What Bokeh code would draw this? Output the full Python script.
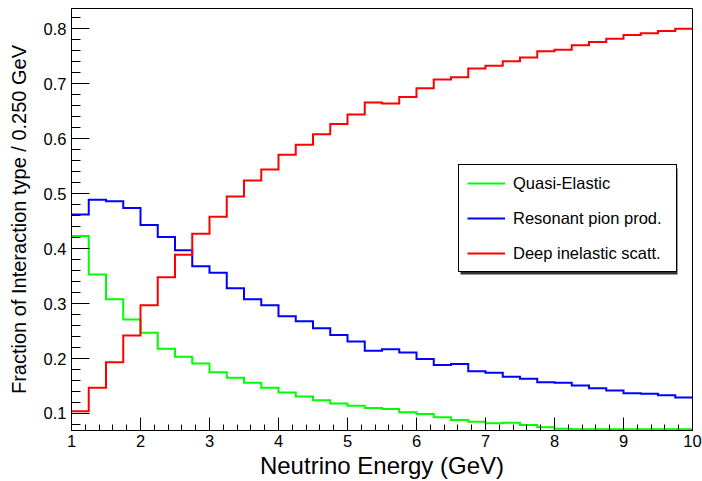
import numpy as np
from bokeh.plotting import figure
from bokeh.models import Range1d, FixedTicker, Legend, LegendItem, BoxAnnotation
from bokeh.embed import file_html
from bokeh.resources import INLINE

# ---- data (fraction of interaction type per 0.25 GeV bin, 1..10 GeV) ----
bin_low = 1.0
bin_high = 10.0
bin_width = 0.25

quasi_elastic = [0.423, 0.353, 0.308, 0.271, 0.247, 0.218, 0.203, 0.191, 0.175,
                 0.165, 0.156, 0.147, 0.138, 0.131, 0.124, 0.118, 0.114, 0.110,
                 0.108, 0.102, 0.099, 0.093, 0.088, 0.085, 0.082, 0.083, 0.079,
                 0.075, 0.072, 0.0715, 0.0715, 0.0715, 0.0715, 0.0715, 0.0715, 0.0715]

resonant_pion = [0.462, 0.489, 0.486, 0.474, 0.443, 0.421, 0.397, 0.368, 0.356,
                 0.328, 0.308, 0.297, 0.277, 0.268, 0.255, 0.243, 0.231, 0.214,
                 0.217, 0.211, 0.199, 0.188, 0.190, 0.177, 0.174, 0.167, 0.163,
                 0.157, 0.156, 0.151, 0.146, 0.142, 0.137, 0.136, 0.133, 0.129]

deep_inelastic = [0.104, 0.147, 0.193, 0.242, 0.297, 0.348, 0.389, 0.427, 0.458,
                  0.495, 0.524, 0.544, 0.571, 0.589, 0.608, 0.627, 0.644, 0.666,
                  0.664, 0.676, 0.692, 0.708, 0.712, 0.728, 0.733, 0.741, 0.748,
                  0.759, 0.762, 0.770, 0.776, 0.782, 0.789, 0.792, 0.796, 0.800]

series_labels = ["Quasi-Elastic", "Resonant pion prod.", "Deep inelastic scatt."]
series_colors = ["#00ff00", "#0000ff", "#ff0000"]

x_tick_values = [1, 2, 3, 4, 5, 6, 7, 8, 9, 10]
y_tick_values = [0.1, 0.2, 0.3, 0.4, 0.5, 0.6, 0.7, 0.8]

x_title = "Neutrino Energy (GeV)"
y_title = "Fraction of Interaction type / 0.250 GeV"

# ---- figure ----
FONT = "Liberation Sans"
edges = np.linspace(bin_low, bin_high, int(round((bin_high - bin_low) / bin_width)) + 1)

p = figure(width=702, height=481, output_backend="svg", toolbar_location=None,
           x_range=Range1d(1, 10), y_range=Range1d(0.069, 0.837),
           min_border_left=71, min_border_right=10, min_border_top=8,
           min_border_bottom=51, background_fill_color="white",
           border_fill_color="white")
p.grid.visible = False
p.outline_line_color = "black"
p.outline_line_width = 1

renderers = []
for vals, col in zip([quasi_elastic, resonant_pion, deep_inelastic], series_colors):
    yv = list(vals) + [vals[-1]]
    r = p.step(x=edges, y=yv, mode="after", line_color=col, line_width=2,
               line_join="miter")
    renderers.append(r)

# axes
x_minor = list(np.round(np.arange(1.0, 10.0001, 0.2), 3))
y_minor = list(np.round(np.arange(0.08, 0.8401, 0.02), 3))
p.xaxis.ticker = FixedTicker(ticks=x_tick_values, minor_ticks=x_minor)
p.yaxis.ticker = FixedTicker(ticks=y_tick_values, minor_ticks=y_minor)
p.yaxis.major_label_overrides = {v: f"{v:.1f}" for v in y_tick_values}

for ax in (p.xaxis[0], p.yaxis[0]):
    ax.axis_line_color = "black"
    ax.major_tick_line_color = "black"
    ax.minor_tick_line_color = "black"
    ax.major_tick_out = 0
    ax.minor_tick_out = 0
    ax.major_label_text_font = FONT
    ax.major_label_text_font_size = "16.5px"
    ax.major_label_text_color = "black"
    ax.axis_label_text_font = FONT
    ax.axis_label_text_font_style = "normal"
    ax.axis_label_text_color = "black"

p.xaxis.major_tick_in = 13
p.xaxis.minor_tick_in = 6
p.yaxis.major_tick_in = 18
p.yaxis.minor_tick_in = 9

p.xaxis.axis_label = x_title
p.xaxis.axis_label_text_font_size = "24px"
p.xaxis.major_label_standoff = 4
p.xaxis.axis_label_standoff = 2

p.yaxis.axis_label = y_title
p.yaxis.axis_label_text_font_size = "20px"
p.yaxis.major_label_standoff = 5
p.yaxis.axis_label_standoff = 11

# legend geometry (screen pixels, relative to the frame's bottom-left)
LEG_X, LEG_Y = 387, 158
LEG_PAD, LEG_SPACING, LEG_ROW = 8, 15, 20
LEG_GLYPH_W, LEG_STANDOFF, LEG_LABEL_W = 38, 8, 155
leg_w = 2 * LEG_PAD + LEG_GLYPH_W + LEG_STANDOFF + LEG_LABEL_W
leg_h = 2 * LEG_PAD + 3 * LEG_ROW + 2 * LEG_SPACING
SHADOW = 2

# ROOT-style drop shadow behind the legend box
shadow = BoxAnnotation(left=LEG_X + SHADOW, right=LEG_X + SHADOW + leg_w,
                       bottom=LEG_Y - SHADOW, top=LEG_Y - SHADOW + leg_h,
                       left_units="screen", right_units="screen",
                       bottom_units="screen", top_units="screen",
                       fill_color="#333333", fill_alpha=1, line_color=None)
p.add_layout(shadow)

items = [LegendItem(label=lab, renderers=[r]) for lab, r in zip(series_labels, renderers)]
legend = Legend(items=items, location=(LEG_X, LEG_Y), margin=0,
                border_line_color="black", border_line_width=1, border_line_alpha=1,
                background_fill_color="white", background_fill_alpha=1,
                padding=LEG_PAD, spacing=LEG_SPACING, label_height=LEG_ROW,
                glyph_height=LEG_ROW, glyph_width=LEG_GLYPH_W,
                label_standoff=LEG_STANDOFF, label_width=LEG_LABEL_W,
                label_text_font=FONT, label_text_font_size="16.5px",
                label_text_color="black")
p.add_layout(legend)

open("out.html", "w").write(file_html(p, INLINE))
